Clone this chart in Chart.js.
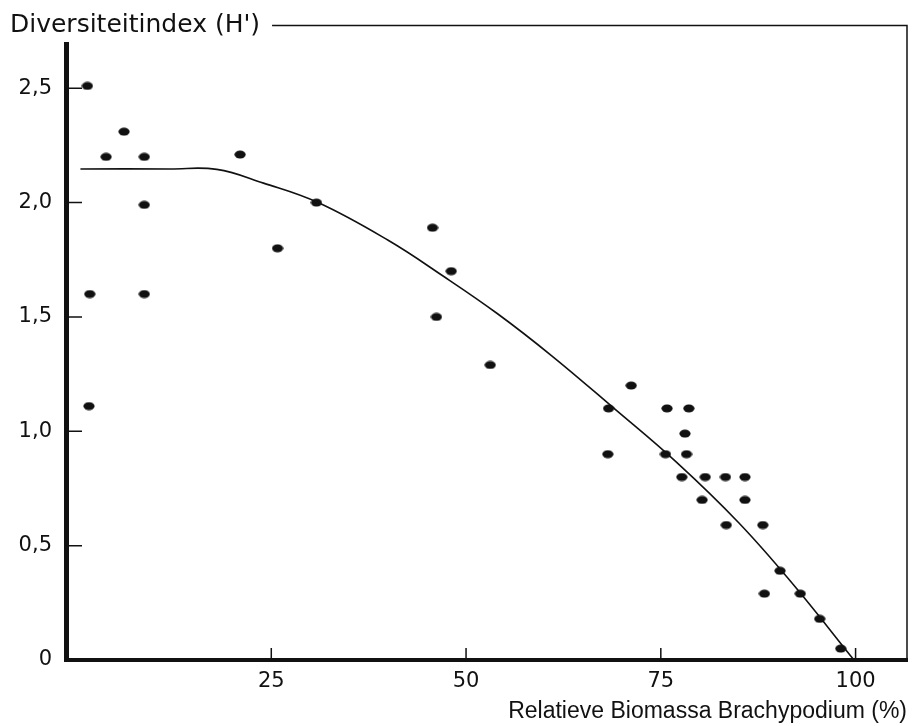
<!DOCTYPE html>
<html lang="nl">
<head>
<meta charset="UTF-8">
<title>Diversiteitindex en biomassa Brachypodium</title>
<script src="https://cdn.jsdelivr.net/npm/chart.js"></script>
<style>
  html, body { margin: 0; padding: 0; background: #fff; }
  #wrap { width: 913px; height: 726px; }
</style>
</head>
<body>
<div id="wrap"><canvas id="myChart"></canvas></div>
<script>
// meetpunten
const biomassa = [1.4, 3.8, 6.1, 8.7, 8.7, 21.0, 1.7, 8.7, 1.6, 25.8, 30.8, 45.7, 48.1, 46.2, 53.1,
  71.2, 68.3, 75.8, 78.6, 78.1, 68.2, 75.6, 78.3, 77.7, 80.7, 83.3, 85.8, 80.3, 85.8, 83.4, 88.1,
  90.3, 88.3, 92.9, 95.4, 98.1];
const diversiteit = [2.51, 2.20, 2.31, 2.20, 1.99, 2.21, 1.60, 1.60, 1.11, 1.80, 2.00, 1.89, 1.70, 1.50, 1.29,
  1.20, 1.10, 1.10, 1.10, 0.99, 0.90, 0.90, 0.90, 0.80, 0.80, 0.80, 0.80, 0.70, 0.70, 0.59, 0.59,
  0.39, 0.29, 0.29, 0.18, 0.05];

// getekende trendlijn
const curveX = [0.5, 12, 18, 24, 31, 40, 47, 54, 61, 69, 77, 85, 92, 99.8];
const curveY = [2.147, 2.147, 2.145, 2.085, 2.0, 1.835, 1.68, 1.515, 1.33, 1.1, 0.865, 0.6, 0.33, 0.0];

const xTicks = [25, 50, 75, 100];
const yTicks = [0, 0.5, 1, 1.5, 2, 2.5];
const yTitle = "Diversiteitindex (H')";
const xTitle = 'Relatieve Biomassa Brachypodium (%)';

const titleFont = { family: '"DejaVu Sans", sans-serif', size: 25, weight: 'normal', lineHeight: 1.15 };
const titlePad = { top: 11, bottom: 5 };

// ovale stip zoals in de scan
const dot = document.createElement('canvas');
dot.width = 12;
dot.height = 9;
const dctx = dot.getContext('2d');
dctx.fillStyle = '#111';
dctx.beginPath();
dctx.ellipse(6, 4.5, 5.6, 4, 0, 0, Math.PI * 2);
dctx.fill();

// tickjes naar binnen + kader rechts en boven
const frame = {
  id: 'frame',
  afterDraw(chart) {
    const { ctx, chartArea: a, scales: { x, y } } = chart;
    ctx.save();
    ctx.strokeStyle = '#111';
    ctx.lineWidth = 1.5;
    ctx.beginPath();
    xTicks.forEach(v => {
      const px = x.getPixelForValue(v);
      ctx.moveTo(px, a.bottom - 2);
      ctx.lineTo(px, a.bottom - 12);
    });
    yTicks.slice(1).forEach(v => {
      const py = y.getPixelForValue(v);
      ctx.moveTo(a.left + 2, py);
      ctx.lineTo(a.left + 16, py);
    });
    ctx.stroke();

    const tb = chart.titleBlock;
    ctx.font = `${titleFont.size}px ${titleFont.family}`;
    const w = ctx.measureText(yTitle).width;
    const ty = tb.top + titlePad.top + titleFont.size * titleFont.lineHeight / 2;
    ctx.beginPath();
    ctx.moveTo(tb.left + w + 12, ty);
    ctx.lineTo(a.right, ty);
    ctx.lineTo(a.right, a.bottom);
    ctx.stroke();
    ctx.restore();
  }
};

new Chart(document.getElementById('myChart'), {
  type: 'scatter',
  data: {
    datasets: [
      {
        label: 'metingen',
        data: biomassa.map((b, i) => ({ x: b, y: diversiteit[i] })),
        pointStyle: dot,
        pointRadius: 5,
        showLine: false
      },
      {
        label: 'trend',
        data: curveX.map((c, i) => ({ x: c, y: curveY[i] })),
        showLine: true,
        pointRadius: 0,
        borderColor: '#111',
        borderWidth: 1.6,
        tension: 0.4
      }
    ]
  },
  plugins: [frame],
  options: {
    responsive: true,
    maintainAspectRatio: false,
    animation: false,
    layout: { padding: { left: 10, right: 3, top: 0, bottom: 0 } },
    plugins: {
      legend: { display: false },
      tooltip: { enabled: false },
      title: {
        display: true,
        text: yTitle,
        align: 'start',
        color: '#111',
        font: titleFont,
        padding: titlePad
      }
    },
    scales: {
      x: {
        type: 'linear',
        min: -1.35,
        max: 106.6,
        afterBuildTicks: s => { s.ticks = xTicks.map(v => ({ value: v })); },
        afterFit: s => { s.height = 66; },
        grid: { drawOnChartArea: false, drawTicks: false },
        border: { display: true, width: 4, color: '#111' },
        ticks: {
          padding: 9,
          color: '#111',
          font: { family: '"DejaVu Sans", sans-serif', size: 21 }
        },
        title: {
          display: true,
          text: xTitle,
          align: 'end',
          color: '#111',
          font: { family: '"Liberation Sans", Arial, sans-serif', size: 23 },
          padding: { top: 0, bottom: 1 }
        }
      },
      y: {
        type: 'linear',
        min: 0,
        max: 2.69,
        afterBuildTicks: s => { s.ticks = yTicks.map(v => ({ value: v })); },
        afterFit: s => { s.width = 56; },
        grid: { drawOnChartArea: false, drawTicks: false },
        border: { display: true, width: 5, color: '#111' },
        ticks: {
          padding: 14,
          color: '#111',
          font: { family: '"DejaVu Sans", sans-serif', size: 21 },
          callback: v => v === 0 ? '0' : v.toFixed(1).replace('.', ',')
        }
      }
    }
  }
});
</script>
</body>
</html>
